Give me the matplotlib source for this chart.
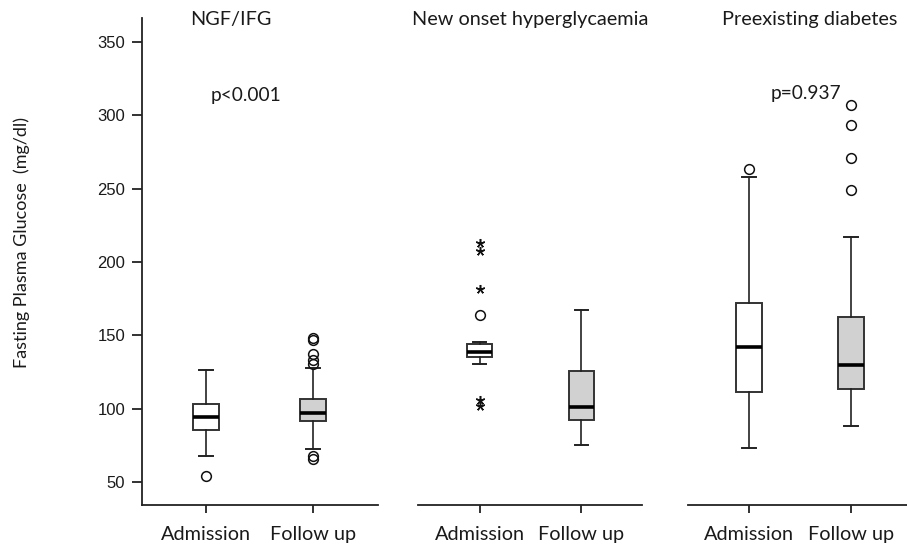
import matplotlib
matplotlib.use("Agg")
import matplotlib.pyplot as plt

panels = ["NGF/IFG", "New onset hyperglycaemia", "Preexisting diabetes"]
groups = ["Admission", "Follow up"]
pvalues = ["p<0.001", None, "p=0.937"]

# stats per panel: [Admission, Follow up] -> (whislo, q1, med, q3, whishi)
stats_ngf = [(68, 85.4, 94, 103, 126.4), (72.5, 91.4, 97.3, 106.4, 127.4)]
stats_new = [(130.3, 135, 138.7, 144.3, 145.5), (75, 92.3, 101.2, 126, 167)]
stats_pre = [(73, 111.6, 141.8, 172.3, 258.2), (88, 113.7, 129.8, 162.5, 217.3)]

circles_ngf = [[54.4], [148.4, 146.5, 137.2, 132.9, 130.2, 67.8, 65.4]]
circles_new = [[164], []]
circles_pre = [[263.2], [307, 293.2, 271.1, 249.1]]

stars_new = [[213.2, 207.3, 181.6, 106, 101.9], []]

all_stats = [stats_ngf, stats_new, stats_pre]
all_circles = [circles_ngf, circles_new, circles_pre]
all_stars = [[[], []], stars_new, [[], []]]

yticks = [50, 100, 150, 200, 250, 300, 350]

W, H = 907, 549
fig = plt.figure(figsize=(W / 100, H / 100), dpi=100)

label_font = ["Lato", "DejaVu Sans"]
tick_font = ["Liberation Sans", "DejaVu Sans"]

axes_px = [(142, 378, (0.40, 2.61)), (418, 642, (0.39, 2.60)), (688, 907, (0.40, 2.55))]
title_x = [231, 530, 810]
p_pos = [(246, 95), None, (806, 93)]
ybot, ytop = 505, 17.5
ylim = (34.3, 366.7)
fills = ["white", "#d0d1d0"]

for i, (x0, x1, xl) in enumerate(axes_px):
    ax = fig.add_axes([x0 / W, 1 - ybot / H, (x1 - x0) / W, (ybot - ytop) / H])
    ax.set_xlim(*xl)
    ax.set_ylim(*ylim)
    bstats = []
    for j, s in enumerate(all_stats[i]):
        bstats.append(dict(whislo=s[0], q1=s[1], med=s[2], q3=s[3], whishi=s[4],
                           fliers=all_circles[i][j], label=groups[j]))
    bp = ax.bxp(bstats, positions=[1, 2], widths=0.25, capwidths=0.13,
                patch_artist=True, showfliers=True,
                boxprops=dict(edgecolor="#333333", linewidth=1.4),
                medianprops=dict(color="black", linewidth=2.6),
                whiskerprops=dict(color="#222222", linewidth=1.2),
                capprops=dict(color="#222222", linewidth=1.4),
                flierprops=dict(marker="o", markerfacecolor="none",
                                markeredgecolor="#111111", markersize=7,
                                markeredgewidth=1.1, linestyle="none"))
    for patch, fc in zip(bp["boxes"], fills):
        patch.set_facecolor(fc)
    for j, st in enumerate(all_stars[i]):
        if st:
            ax.plot([j + 1] * len(st), st, linestyle="none", marker=(5, 2, 0),
                    markersize=6.5, color="#111111", markeredgewidth=1.1)
    for sp in ["top", "right"]:
        ax.spines[sp].set_visible(False)
    ax.spines["bottom"].set_linewidth(1.3)
    ax.spines["bottom"].set_color("#222222")
    ax.set_xticks([1, 2])
    ax.set_xticklabels(groups, fontsize=14.3, family=label_font, color="#1a1a1a")
    ax.tick_params(axis="x", length=6, width=1.3, color="#222222", pad=9)
    if i == 0:
        ax.spines["left"].set_linewidth(1.3)
        ax.spines["left"].set_color("#222222")
        ax.set_yticks(yticks)
        ax.set_yticklabels([str(t) for t in yticks], fontsize=12, family=tick_font,
                           color="#1a1a1a")
        ax.tick_params(axis="y", length=7, width=1.3, color="#222222", pad=5)
    else:
        ax.spines["left"].set_visible(False)
        ax.set_yticks([])
    fig.text(title_x[i] / W, 1 - 19 / H, panels[i], ha="center", va="center",
             fontsize=14.3, family=label_font, color="#1a1a1a")
    if pvalues[i]:
        px, py = p_pos[i]
        fig.text(px / W, 1 - py / H, pvalues[i], ha="center", va="center",
                 fontsize=13.8, family=label_font, color="#1a1a1a")

fig.text(22 / W, 1 - 243 / H, "Fasting Plasma Glucose  (mg/dl)", rotation=90,
         ha="center", va="center", fontsize=13, family=label_font, color="#1a1a1a")

fig.savefig("out.png", dpi=100)
